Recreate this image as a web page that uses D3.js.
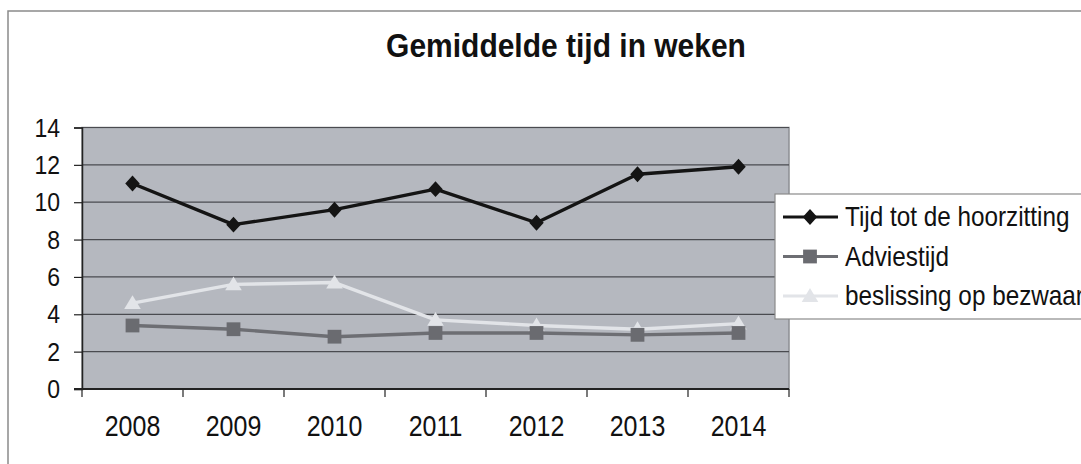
<!DOCTYPE html>
<html>
<head>
<meta charset="utf-8">
<script src="https://cdn.jsdelivr.net/npm/d3@7/dist/d3.min.js"></script>
<style>
  html, body { margin: 0; padding: 0; background: #fff; }
  svg { display: block; font-family: Arial, "Liberation Sans", sans-serif; }
</style>
</head>
<body>
<svg id="chart" width="1081" height="464"></svg>
<script>
// Data
const years = ['2008', '2009', '2010', '2011', '2012', '2013', '2014'];
const hoorzitting = [11.0, 8.8, 9.6, 10.7, 8.9, 11.5, 11.9];
const adviestijd = [3.4, 3.2, 2.8, 3.0, 3.0, 2.9, 3.0];
const beslissing = [4.6, 5.6, 5.7, 3.7, 3.4, 3.2, 3.5];
const yTicks = [0, 2, 4, 6, 8, 10, 12, 14];
const seriesNames = ['Tijd tot de hoorzitting', 'Adviestijd', 'beslissing op bezwaar'];

const svg = d3.select('#chart');
const stretch = 1.16; // the scan is a bit taller than wide

// Outer chart frame (runs off the right and bottom of the picture)
svg.append('rect')
    .attr('x', 8).attr('y', 11)
    .attr('width', 1200).attr('height', 600)
    .attr('fill', '#fff')
    .attr('stroke', '#8a8a8a')
    .attr('stroke-width', 1.5);

// Title
svg.append('text')
    .attr('transform', `translate(566,57) scale(1,1.1)`)
    .attr('text-anchor', 'middle')
    .style('font-size', '30px')
    .style('font-weight', 'bold')
    .style('fill', '#111')
    .text('Gemiddelde tijd in weken');

const plot = { left: 82, right: 789, top: 127.5, bottom: 389 };

const x = d3.scaleBand().domain(years).range([plot.left, plot.right]);
const y = d3.scaleLinear().domain([0, 14]).range([plot.bottom, plot.top]);
const cx = d => x(d) + x.bandwidth() / 2;

// Plot area
svg.append('rect')
    .attr('x', plot.left).attr('y', plot.top)
    .attr('width', plot.right - plot.left).attr('height', plot.bottom - plot.top)
    .attr('fill', '#b5b8bf')
    .attr('stroke', '#8c8e93')
    .attr('stroke-width', 1.5);

// Gridlines
svg.append('g')
    .selectAll('line')
    .data(yTicks.filter(t => t > 0))
    .enter().append('line')
    .attr('x1', plot.left).attr('x2', plot.right)
    .attr('y1', d => y(d)).attr('y2', d => y(d))
    .attr('stroke', '#4a4b50')
    .attr('stroke-width', 1.2);

// Y axis
const yAxis = svg.append('g')
    .attr('transform', `translate(${plot.left},0)`)
    .call(d3.axisLeft(y).tickValues(yTicks).tickSize(8).tickPadding(14));
yAxis.select('.domain').attr('stroke', '#222').attr('stroke-width', 1.5);
yAxis.selectAll('.tick line').attr('stroke', '#222').attr('stroke-width', 1.2);
yAxis.selectAll('.tick text')
    .attr('x', null).attr('dy', null)
    .attr('transform', `translate(-22,8.5) scale(1,${stretch})`)
    .style('font-size', '23px')
    .style('font-family', 'Arial, "Liberation Sans", sans-serif')
    .style('fill', '#111');

// X axis: ticks between categories
const xAxis = svg.append('g')
    .attr('transform', `translate(0,${plot.bottom})`);
xAxis.append('line')
    .attr('x1', plot.left - 8).attr('x2', plot.right)
    .attr('stroke', '#222').attr('stroke-width', 1.8);
xAxis.selectAll('line.tick')
    .data(years.concat(['end']))
    .enter().append('line')
    .attr('class', 'tick')
    .attr('x1', (d, i) => i < years.length ? x(d) : plot.right)
    .attr('x2', (d, i) => i < years.length ? x(d) : plot.right)
    .attr('y1', 0).attr('y2', 8)
    .attr('stroke', '#222').attr('stroke-width', 1.2);
xAxis.selectAll('text')
    .data(years)
    .enter().append('text')
    .attr('transform', d => `translate(${cx(d)},47) scale(1,${stretch})`)
    .attr('text-anchor', 'middle')
    .style('font-size', '25px')
    .style('fill', '#111')
    .text(d => d);

// Marker shapes
const diamond = {
    draw(ctx, size) {
        const r = Math.sqrt(size) / 2;
        ctx.moveTo(0, -r * 1.1); ctx.lineTo(r, 0); ctx.lineTo(0, r * 1.1); ctx.lineTo(-r, 0); ctx.closePath();
    }
};
const square = {
    draw(ctx, size) {
        const r = Math.sqrt(size) / 2;
        ctx.rect(-r, -r, 2 * r, 2 * r);
    }
};
const triangle = {
    draw(ctx, size) {
        const r = Math.sqrt(size) / 2;
        ctx.moveTo(0, -r * 1.0); ctx.lineTo(r * 1.05, r * 0.75); ctx.lineTo(-r * 1.05, r * 0.75); ctx.closePath();
    }
};

const series = [
    { name: seriesNames[0], values: hoorzitting, line: '#141414', fill: '#141414', shape: diamond, size: 210 },
    { name: seriesNames[1], values: adviestijd, line: '#6d6e73', fill: '#6a6b70', shape: square, size: 190 },
    { name: seriesNames[2], values: beslissing, line: '#e2e4e8', fill: '#e2e4e8', shape: triangle, size: 250 }
];

const lineGen = d3.line().x(d => cx(d.year)).y(d => y(d.v));

// Draw lower series first so the top line stays on top
series.slice().reverse().forEach(s => {
    const pts = years.map((yr, i) => ({ year: yr, v: s.values[i] }));
    svg.append('path')
        .datum(pts)
        .attr('d', lineGen)
        .attr('fill', 'none')
        .attr('stroke', s.line)
        .attr('stroke-width', 3.4)
        .attr('stroke-linejoin', 'round');
    svg.append('g')
        .selectAll('path')
        .data(pts)
        .enter().append('path')
        .attr('transform', d => `translate(${cx(d.year)},${y(d.v)})`)
        .attr('d', d3.symbol().type(s.shape).size(s.size))
        .attr('fill', s.fill);
});

// Legend (cut by the right edge of the picture)
const legend = svg.append('g');
legend.append('rect')
    .attr('x', 775).attr('y', 194)
    .attr('width', 400).attr('height', 125)
    .attr('fill', '#fff')
    .attr('stroke', '#8a8a8a')
    .attr('stroke-width', 1.2);

const rows = legend.selectAll('g.row')
    .data(series)
    .enter().append('g')
    .attr('class', 'row')
    .attr('transform', (d, i) => `translate(0,${217 + i * 39.5})`);
rows.append('line')
    .attr('x1', 783).attr('x2', 838)
    .attr('stroke', d => d.line)
    .attr('stroke-width', 3);
rows.append('path')
    .attr('transform', 'translate(810,0)')
    .attr('d', d => d3.symbol().type(d.shape).size(d.size)())
    .attr('fill', d => d.fill);
rows.append('text')
    .attr('transform', `translate(845,9) scale(1,${stretch})`)
    .style('font-size', '24.3px')
    .style('fill', '#111')
    .text(d => d.name);
</script>
</body>
</html>
